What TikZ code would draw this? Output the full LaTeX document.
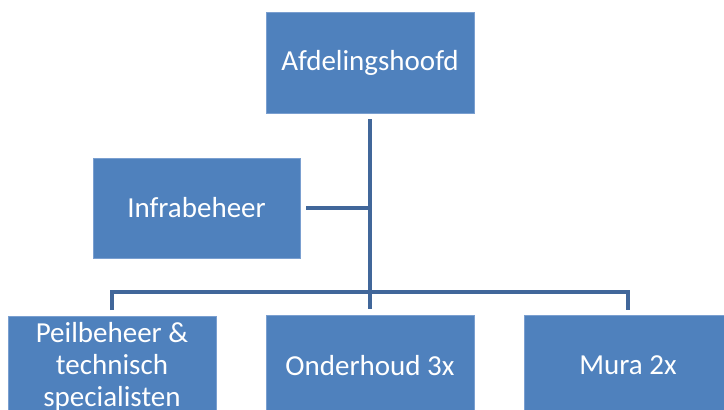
\documentclass[tikz,border=0pt]{standalone}
\usepackage{fontspec}
\setmainfont{Carlito}
\definecolor{boxblue}{HTML}{4F81BD}
\definecolor{edgeblue}{HTML}{7A9FD0}
\definecolor{connblue}{HTML}{41679A}
\begin{document}
\begin{tikzpicture}[x=1pt,y=1pt,
  orgbox/.style={rectangle,fill=boxblue,draw=edgeblue,line width=0.7pt,
    minimum width=208pt,minimum height=101pt,inner sep=2pt,
    text=white,align=center,font=\fontsize{29}{32}\selectfont},
  conn/.style={draw=connblue,line width=4pt}]
\useasboundingbox (0,0) rectangle (724,410);
\clip (0,0) rectangle (724,410);
\node[orgbox] (top) at (370,347.5) {Afdelingshoofd};
\node[orgbox,minimum width=207pt,minimum height=100pt] (infra) at (196.5,202) {Infrabeheer};
\node[orgbox] (b1) at (112,43) {Peilbeheer \&\\technisch\\specialisten};
\node[orgbox] (b2) at (370,44.5) {Onderhoud 3x};
\node[orgbox] (b3) at (628,44.5) {Mura 2x};
\coordinate (bar) at (370,118);
\draw[conn,shorten <=6pt,shorten >=6pt] (top.south) -- (b2.north);
\draw[conn,shorten <=6pt,shorten >=4.5pt] (b1.north) -- (b1.north |- bar) -- (b3.north |- bar) -- (b3.north);
\draw[conn,shorten <=6pt] (infra.east) -- (infra.east -| top.south);
\end{tikzpicture}
\end{document}
